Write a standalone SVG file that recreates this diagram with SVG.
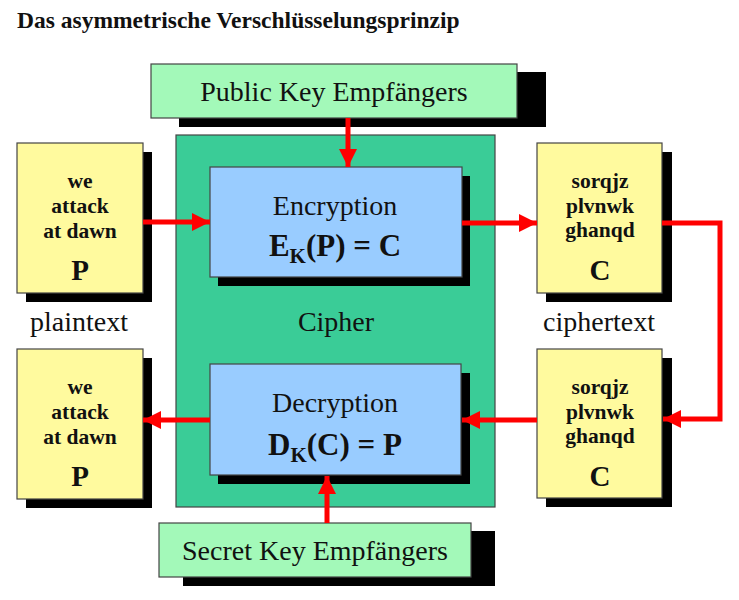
<svg xmlns="http://www.w3.org/2000/svg" width="739" height="600" viewBox="0 0 739 600">
<defs>
<style>
.sh{fill:#000}
.bx{stroke:#444;stroke-width:1.2}
.key{fill:#A3F9B9}
.ciph{fill:#3ACC97}
.blue{fill:#99CCFF}
.yel{fill:#FFFA9E}
.t{font-family:"Liberation Serif","Times New Roman",serif;fill:#111;text-anchor:middle}
.b{font-weight:bold}
.lab{font-size:28px}
.yt{font-size:21.5px;font-weight:bold}
.big{font-size:29px;font-weight:bold}
.eq{font-size:31px;font-weight:bold}
.conn{stroke:#FF0000;stroke-width:5;fill:none}
</style>
<marker id="ah" markerUnits="userSpaceOnUse" markerWidth="20" markerHeight="20" refX="18" refY="9" orient="auto">
<path d="M0,0 L18,9 L0,18 z" fill="#FF0000"/>
</marker>
</defs>
<rect width="739" height="600" fill="#fff"/>
<text x="17" y="28" class="t b" style="font-size:23.5px;text-anchor:start">Das asymmetrische Verschlüsselungsprinzip</text>

<g id="cipher">
<rect x="176" y="135" width="319" height="372" class="ciph bx"/>
<text x="336" y="331" class="t lab">Cipher</text>
</g>

<g id="public-key">
<rect x="179" y="72" width="367" height="55" class="sh"/>
<rect x="151" y="64" width="366" height="54" class="key bx"/>
<text x="334" y="101" class="t lab">Public Key Empfängers</text>
</g>

<g id="secret-key">
<rect x="183" y="531" width="312" height="55" class="sh"/>
<rect x="159" y="523" width="312" height="54" class="key bx"/>
<text x="315" y="560" class="t lab">Secret Key Empfängers</text>
</g>

<g id="encryption">
<rect x="218" y="176" width="252" height="110" class="sh"/>
<rect x="210" y="167" width="252" height="110" class="blue bx"/>
<text x="335" y="215" class="t lab">Encryption</text>
<text x="335" y="256" class="t eq">E<tspan dy="7" style="font-size:21px">K</tspan><tspan dy="-7">(P) = C</tspan></text>
</g>

<g id="decryption">
<rect x="218" y="373" width="252" height="111" class="sh"/>
<rect x="210" y="364" width="251" height="111" class="blue bx"/>
<text x="335" y="412" class="t lab">Decryption</text>
<text x="335" y="455" class="t eq">D<tspan dy="7" style="font-size:21px">K</tspan><tspan dy="-7">(C) = P</tspan></text>
</g>

<g id="plaintext-top">
<rect x="26" y="152" width="126" height="150" class="sh"/>
<rect x="17" y="143" width="126" height="150" class="yel bx"/>
<text x="80" y="188" class="t yt">we</text>
<text x="80" y="213" class="t yt">attack</text>
<text x="80" y="238" class="t yt">at dawn</text>
<text x="80" y="280" class="t big">P</text>
</g>

<g id="plaintext-bottom">
<rect x="26" y="358" width="126" height="150" class="sh"/>
<rect x="17" y="349" width="126" height="150" class="yel bx"/>
<text x="80" y="394" class="t yt">we</text>
<text x="80" y="419" class="t yt">attack</text>
<text x="80" y="444" class="t yt">at dawn</text>
<text x="80" y="486" class="t big">P</text>
</g>

<g id="ciphertext-top">
<rect x="546" y="152" width="126" height="150" class="sh"/>
<rect x="537" y="143" width="125" height="150" class="yel bx"/>
<text x="600" y="188" class="t yt">sorqjz</text>
<text x="600" y="213" class="t yt">plvnwk</text>
<text x="600" y="237" class="t yt">ghanqd</text>
<text x="600" y="280" class="t big">C</text>
</g>

<g id="ciphertext-bottom">
<rect x="546" y="358" width="126" height="149" class="sh"/>
<rect x="537" y="349" width="125" height="149" class="yel bx"/>
<text x="600" y="394" class="t yt">sorqjz</text>
<text x="600" y="419" class="t yt">plvnwk</text>
<text x="600" y="443" class="t yt">ghanqd</text>
<text x="600" y="486" class="t big">C</text>
</g>

<g id="labels">
<text x="79" y="331" class="t lab">plaintext</text>
<text x="599" y="331" class="t lab">ciphertext</text>
</g>

<g id="connectors">
<line x1="348" y1="118" x2="348" y2="167" class="conn" marker-end="url(#ah)"/>
<line x1="143" y1="222" x2="210" y2="222" class="conn" marker-end="url(#ah)"/>
<line x1="462" y1="223" x2="537" y2="223" class="conn" marker-end="url(#ah)"/>
<path d="M662,223 H720 V419 H663" class="conn" marker-end="url(#ah)"/>
<line x1="537" y1="420" x2="462" y2="420" class="conn" marker-end="url(#ah)"/>
<line x1="210" y1="420" x2="143" y2="420" class="conn" marker-end="url(#ah)"/>
<line x1="327" y1="523" x2="327" y2="476" class="conn" marker-end="url(#ah)"/>
</g>
</svg>
